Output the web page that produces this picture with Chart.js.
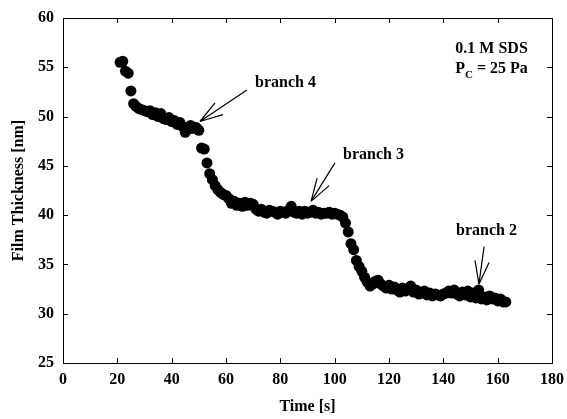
<!DOCTYPE html>
<html>
<head>
<meta charset="utf-8">
<script src="https://cdn.jsdelivr.net/npm/chart.js@4.4.1/dist/chart.umd.min.js"></script>
<style>
  html, body { margin: 0; padding: 0; background: #fff; }
</style>
</head>
<body>
<canvas id="thicknessChart" width="567" height="419"></canvas>
<script>
// time [s] and film thickness [nm]
const times = [
  21, 22, 23, 24, 25, 26, 27, 28, 29, 30,
  31, 32, 33, 34, 35, 36, 37, 38, 39, 40,
  41, 42, 43, 44, 45, 46, 47, 48, 49, 50,
  51, 52, 53, 54, 55, 56, 57, 58, 59, 60,
  61, 62, 63, 64, 65, 66, 67, 68, 69, 70,
  71, 72, 73, 74, 75, 76, 77, 78, 79, 80,
  81, 82, 83, 84, 85, 86, 87, 88, 89, 90,
  91, 92, 93, 94, 95, 96, 97, 98, 99, 100,
  101, 102, 103, 104, 105, 106, 107, 108, 109, 110,
  111, 112, 113, 114, 115, 116, 117, 118, 119, 120,
  121, 122, 123, 124, 125, 126, 127, 128, 129, 130,
  131, 132, 133, 134, 135, 136, 137, 138, 139, 140,
  141, 142, 143, 144, 145, 146, 147, 148, 149, 150,
  151, 152, 153, 154, 155, 156, 157, 158, 159, 160,
  161, 162, 163
];
const thickness = [
  55.5, 55.6, 54.6, 54.4, 52.6, 51.3, 51.0, 50.8, 50.7, 50.6,
  50.5, 50.6, 50.2, 50.4, 50.0, 50.3, 49.8, 49.7, 49.9, 49.5,
  49.6, 49.2, 49.4, 49.0, 48.4, 48.7, 49.1, 48.8, 48.9, 48.6,
  46.8, 46.7, 45.3, 44.2, 43.6, 43.0, 42.6, 42.3, 42.1, 42.0,
  41.7, 41.2, 41.4, 41.0, 41.2, 40.9, 41.3, 41.0, 41.2, 41.1,
  40.6, 40.4, 40.6, 40.3, 40.2, 40.5, 40.4, 40.3, 40.1, 40.4,
  40.3, 40.2, 40.5, 40.9, 40.3, 40.2, 40.4, 40.1, 40.4, 40.2,
  40.3, 40.5, 40.2, 40.3, 40.1, 40.2, 40.2, 40.3, 40.1, 40.2,
  40.1, 40.0, 39.8, 39.2, 38.3, 37.1, 36.5, 35.4, 34.8, 34.3,
  33.7, 33.2, 32.8, 33.0, 33.3, 33.4, 33.0, 32.8, 32.6, 32.9,
  32.5, 32.7, 32.4, 32.2, 32.6, 32.3, 32.5, 32.8, 32.2, 32.4,
  32.0, 32.1, 32.3, 31.9, 32.1, 31.8, 32.0, 31.9, 31.8, 32.0,
  32.1, 32.3, 32.1, 32.4, 32.0, 31.8, 32.2, 31.9, 32.3, 31.7,
  32.1, 31.6, 32.4, 31.5, 31.7, 31.4, 31.8, 31.5, 31.6, 31.3,
  31.5, 31.2, 31.2
];

// annotations, in data units
const branchLabels = ['branch 4', 'branch 3', 'branch 2'];
const labelPos = [[70.7, 53.4], [103.1, 46.1], [144.7, 38.4]];
const arrowTips = [[50.4, 49.5], [91.3, 41.4], [153.1, 33.0]];
const arrowTails = [[67.7, 52.7], [100.1, 45.3], [155.0, 36.8]];
const conditionPos = [171.1, 56.45, 54.4]; // right edge, baseline 1, baseline 2

const serif = '"Liberation Serif", "Times New Roman", serif';

const framePlugin = {
  id: 'frameAndNotes',
  afterDraw(chart) {
    const { ctx, chartArea: a, scales: { x, y } } = chart;
    ctx.save();
    ctx.strokeStyle = '#000';
    ctx.lineWidth = 1;
    ctx.strokeRect(a.left + 0.5, a.top + 0.5, a.right - a.left, a.bottom - a.top);

    // inward tick marks on all four sides
    ctx.beginPath();
    x.ticks.forEach(t => {
      const px = Math.round(x.getPixelForValue(t.value)) + 0.5;
      ctx.moveTo(px, a.bottom); ctx.lineTo(px, a.bottom - 5);
      ctx.moveTo(px, a.top); ctx.lineTo(px, a.top + 5);
    });
    y.ticks.forEach(t => {
      const py = Math.round(y.getPixelForValue(t.value)) + 0.5;
      ctx.moveTo(a.left, py); ctx.lineTo(a.left + 5, py);
      ctx.moveTo(a.right, py); ctx.lineTo(a.right - 5, py);
    });
    ctx.stroke();

    // arrows and branch labels
    ctx.fillStyle = '#000';
    ctx.lineWidth = 1.2;
    ctx.font = 'bold 16px ' + serif;
    ctx.textBaseline = 'middle';
    ctx.textAlign = 'left';
    branchLabels.forEach((lbl, i) => {
      ctx.fillText(lbl, x.getPixelForValue(labelPos[i][0]), y.getPixelForValue(labelPos[i][1]));
      const tx = x.getPixelForValue(arrowTips[i][0]), ty = y.getPixelForValue(arrowTips[i][1]);
      const sx = x.getPixelForValue(arrowTails[i][0]), sy = y.getPixelForValue(arrowTails[i][1]);
      const ang = Math.atan2(sy - ty, sx - tx);
      ctx.beginPath();
      ctx.moveTo(sx, sy); ctx.lineTo(tx, ty);
      [-0.3, 0.3].forEach(d => {
        ctx.moveTo(tx, ty);
        ctx.lineTo(tx + 24 * Math.cos(ang + d), ty + 24 * Math.sin(ang + d));
      });
      ctx.stroke();
    });

    // experimental conditions, top right
    const rx = x.getPixelForValue(conditionPos[0]);
    ctx.textBaseline = 'alphabetic';
    ctx.textAlign = 'right';
    ctx.font = 'bold 16px ' + serif;
    ctx.fillText('0.1 M SDS', rx, y.getPixelForValue(conditionPos[1]));
    const by = y.getPixelForValue(conditionPos[2]);
    const rest = ' = 25 Pa';
    const wRest = ctx.measureText(rest).width;
    ctx.font = 'bold 11px ' + serif;
    const wSub = ctx.measureText('C').width;
    ctx.font = 'bold 16px ' + serif;
    const wP = ctx.measureText('P').width;
    ctx.textAlign = 'left';
    const x0 = rx - wRest - wSub - wP;
    ctx.fillText('P', x0, by);
    ctx.fillText(rest, x0 + wP + wSub, by);
    ctx.font = 'bold 11px ' + serif;
    ctx.fillText('C', x0 + wP, by + 5);
    ctx.restore();
  }
};

new Chart(document.getElementById('thicknessChart'), {
  type: 'scatter',
  data: {
    datasets: [{
      data: times.map((t, i) => ({ x: t, y: thickness[i] })),
      backgroundColor: '#000',
      borderWidth: 0,
      pointRadius: 5.5,
      pointHoverRadius: 5.5
    }]
  },
  options: {
    responsive: false,
    animation: false,
    events: [],
    layout: { padding: { top: 18, right: 15 } },
    plugins: { legend: { display: false }, tooltip: { enabled: false } },
    scales: {
      x: {
        type: 'linear',
        min: 0, max: 180,
        afterFit: s => { s.height = 56; s.paddingRight = 0; s.paddingLeft = 0; },
        grid: { display: false, drawTicks: false },
        border: { display: false },
        ticks: { stepSize: 20, padding: 7, color: '#000', font: { family: serif, weight: 'bold', size: 16 } },
        title: { display: true, text: 'Time [s]', color: '#000', padding: { top: 0, bottom: 3 },
                 font: { family: serif, weight: 'bold', size: 16 } }
      },
      y: {
        min: 25, max: 60,
        afterFit: s => { s.width = 63; s.paddingTop = 0; s.paddingBottom = 0; },
        grid: { display: false, drawTicks: false },
        border: { display: false },
        ticks: { stepSize: 5, padding: 9, color: '#000', font: { family: serif, weight: 'bold', size: 16 } },
        title: { display: true, text: 'Film Thickness [nm]', color: '#000', padding: { top: 9, bottom: 0 },
                 font: { family: serif, weight: 'bold', size: 16 } }
      }
    }
  },
  plugins: [framePlugin]
});
</script>
</body>
</html>
